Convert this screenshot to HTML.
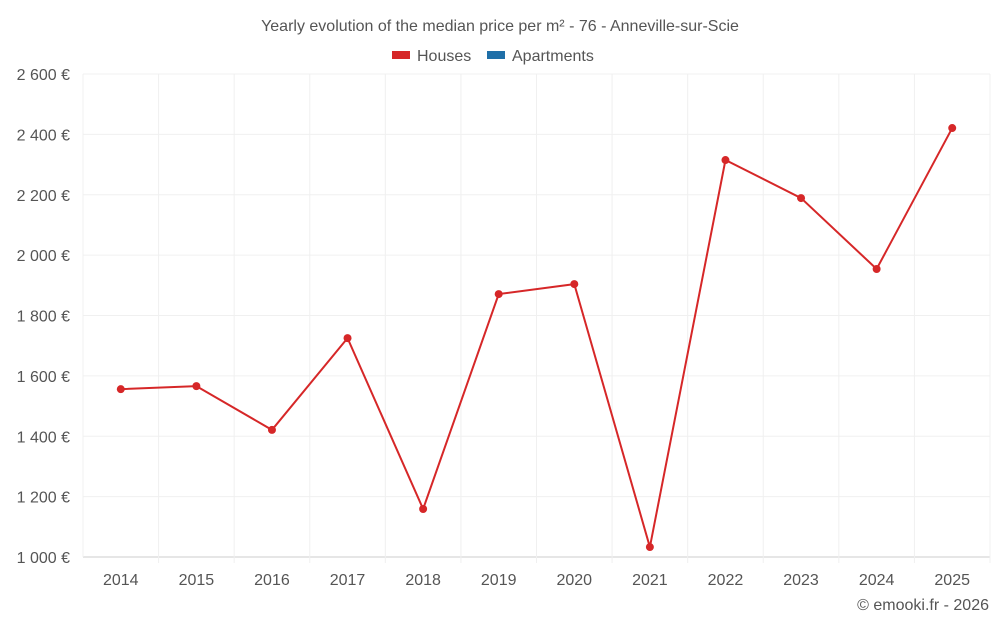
<!DOCTYPE html>
<html><head><meta charset="utf-8"><style>
body{margin:0;background:#fff;font-family:"Liberation Sans",sans-serif;}
svg text{font-family:"Liberation Sans",sans-serif;fill:#555;}
</style></head><body>
<svg id="chart" width="1000" height="625" xmlns="http://www.w3.org/2000/svg">
<text x="500" y="31" text-anchor="middle" font-size="16">Yearly evolution of the median price per m² - 76 - Anneville-sur-Scie</text>
<g>
<g><rect x="392" y="51" width="18" height="8" fill="#d62728"/><text x="417" y="61" font-size="16">Houses</text></g>
<g><rect x="487" y="51" width="18" height="8" fill="#1f6fa8"/><text x="512" y="61" font-size="16">Apartments</text></g>
</g>
<g id="grid"></g><g id="axes"></g><g id="series"></g>
<text x="989" y="610" text-anchor="end" font-size="16">© emooki.fr - 2026</text>
</svg>
<script>
const years=["2014","2015","2016","2017","2018","2019","2020","2021","2022","2023","2024","2025"];
const houses=[1556,1566,1421,1725,1159,1871,1904,1033,2315,2189,1954,2421];
const yTicks=[1000,1200,1400,1600,1800,2000,2200,2400,2600];
const L=83,R=990,T=74,B=557,yMin=1000,yMax=2600;
const ns="http://www.w3.org/2000/svg";
const bw=(R-L)/years.length;
const x=i=>L+bw*(i+0.5);
const y=v=>B-(v-yMin)/(yMax-yMin)*(B-T);
function mk(tag,attrs,parent){const e=document.createElementNS(ns,tag);for(const k in attrs)e.setAttribute(k,attrs[k]);parent.appendChild(e);return e;}
const grid=document.getElementById('grid'),axes=document.getElementById('axes'),ser=document.getElementById('series');
const fmt=v=>String(v).replace(/\B(?=(\d{3})+(?!\d))/g," ")+" €";
yTicks.forEach(v=>{
 const l=mk('line',{x1:L,x2:R,y1:y(v),y2:y(v),stroke:v===yMin?'#ccc':'#f0f0f0'},grid);
 
 
 const t=mk('text',{x:70,y:y(v)+6,'text-anchor':'end','font-size':16},axes);t.textContent=fmt(v);
 
 
});
for(let i=0;i<=years.length;i++){
 const l=mk('line',{x1:L+bw*i,x2:L+bw*i,y1:T,y2:B+(i===0?0:6),stroke:'#f0f0f0'},grid);
 
 
}
years.forEach((yr,i)=>{
 const t=mk('text',{x:x(i),y:585,'text-anchor':'middle','font-size':16},axes);t.textContent=yr;
 
 
});
const p=mk('polyline',{points:houses.map((v,i)=>x(i)+','+y(v)).join(' '),fill:'none',stroke:'#d62728','stroke-width':2},ser);


houses.forEach((v,i)=>{
 const c=mk('circle',{cx:x(i),cy:y(v),r:4,fill:'#d62728'},ser);
 
 
});
</script>
</body></html>
